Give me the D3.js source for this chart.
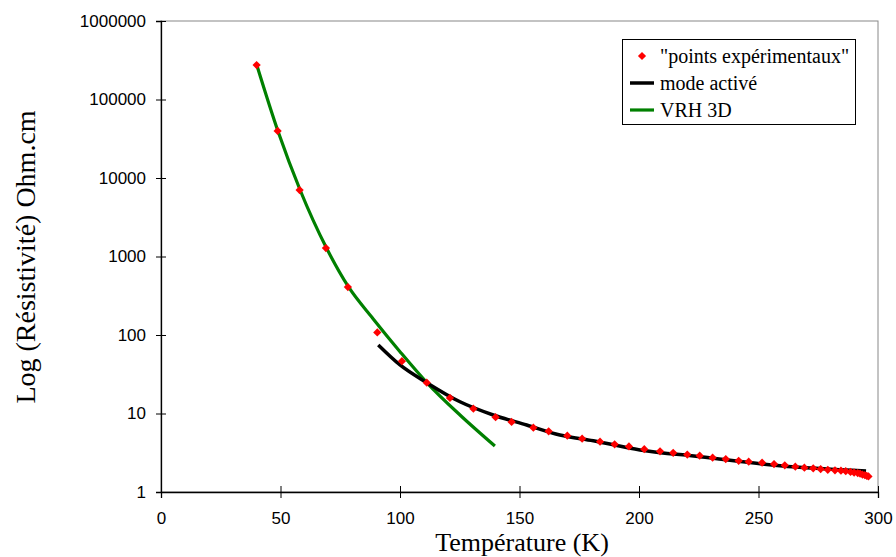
<!DOCTYPE html>
<html><head><meta charset="utf-8">
<script src="https://cdn.jsdelivr.net/npm/d3@7"></script>
<style>body{margin:0;background:#fff}svg{display:block}</style>
</head><body>
<svg id="c" width="896" height="557"></svg>
<script>
// Experimental points: temperature (K) and resistivity (Ohm.cm)
const expT = [40, 48.8, 58, 69, 78.2, 90.5, 100.8, 111.2, 120.9, 130.7, 140, 146.7, 155.8, 162.2, 170, 176.2, 183.7, 189.8, 195.8, 202.2, 208.8, 214.3, 220.2, 225.4, 230.8, 236.3, 241.7, 245.9, 251.5, 256.5, 261, 265.4, 269.2, 272.9, 276, 279, 282, 284.5, 286.5, 288.5, 290, 291.5, 292.5, 293.5, 294.5, 295.3, 296];
const expR = [275000, 39700, 7030, 1283, 408, 108, 46.4, 24.7, 15.8, 11.5, 8.98, 7.8, 6.59, 5.94, 5.22, 4.78, 4.37, 4.05, 3.8, 3.51, 3.3, 3.16, 3.0, 2.9, 2.74, 2.63, 2.5, 2.43, 2.36, 2.27, 2.19, 2.1, 2.04, 2.0, 1.96, 1.92, 1.89, 1.87, 1.84, 1.8, 1.77, 1.74, 1.71, 1.67, 1.64, 1.61, 1.58];
// "mode activé" fit curve
const actT = [90.9, 100, 111.2, 125.1, 139, 153, 166.9, 180.9, 200.4, 225.5, 259, 295];
const actR = [74.6, 41.5, 24.7, 14.1, 9.57, 7.14, 5.32, 4.5, 3.43, 2.82, 2.16, 1.85];
// "VRH 3D" fit curve
const vrhT = [40, 49.1, 58.2, 69.3, 78.4, 88.8, 100, 111.2, 125.1, 139.7];
const vrhR = [280000, 38200, 7030, 1272, 412, 160, 61.3, 24.8, 9.57, 3.85];
// Axes
const xTicks = [0, 50, 100, 150, 200, 250, 300];
const yTicks = [1, 10, 100, 1000, 10000, 100000, 1000000];
const xTitle = "Température (K)";
const yTitle = "Log (Résistivité) Ohm.cm";
const legendLabels = ['"points expérimentaux"', 'mode activé', 'VRH 3D'];

const svg = d3.select("#c");
const L = 161, R = 878, T = 21, B = 492;
const x = d3.scaleLinear().domain([0, 300]).range([L, R]);
const y = d3.scaleLog().domain([1, 1000000]).range([B, T]);

// plot frame (top/right gray)
svg.append("rect").attr("x", L).attr("y", T).attr("width", R - L).attr("height", B - T)
  .attr("fill", "none").attr("stroke", "#888").attr("stroke-width", 1);

const sans = "'Liberation Sans', Arial, sans-serif";
const serif = "'Liberation Serif', 'Times New Roman', serif";

const xAxis = svg.append("g").attr("transform", `translate(0,${B})`)
  .call(d3.axisBottom(x).tickValues(xTicks).tickFormat(d3.format("d")).tickSize(6).tickPadding(14));
xAxis.selectAll(".tick line").attr("y1", -6).attr("y2", 6);
xAxis.selectAll("text").style("font-family", sans).style("font-size", "17px").attr("fill", "#000");
xAxis.select(".domain").attr("stroke", "#000").attr("stroke-width", 1.3);

const yAxis = svg.append("g").attr("transform", `translate(${L},0)`)
  .call(d3.axisLeft(y).tickValues(yTicks).tickFormat(d3.format("d")).tickSize(5).tickPadding(10));
yAxis.selectAll(".tick line").attr("x1", -5).attr("x2", 5);
yAxis.selectAll("text").style("font-family", sans).style("font-size", "17px").attr("fill", "#000");
yAxis.select(".domain").attr("stroke", "#000").attr("stroke-width", 1.3);

// lines
const line = d3.line().x(d => x(d[0])).y(d => y(d[1])).curve(d3.curveMonotoneX);
svg.append("path").datum(vrhT.map((t, i) => [t, vrhR[i]])).attr("d", line)
  .attr("fill", "none").attr("stroke", "#008000").attr("stroke-width", 3.2);
svg.append("path").datum(actT.map((t, i) => [t, actR[i]])).attr("d", line)
  .attr("fill", "none").attr("stroke", "#000").attr("stroke-width", 3.5);

// square diamonds (rotated squares)
const diamond = d3.symbol().type(d3.symbolSquare).size(34);
svg.append("g").selectAll("path").data(expT.map((t, i) => [t, expR[i]])).join("path")
  .attr("d", diamond).attr("transform", d => `translate(${x(d[0])},${y(d[1])}) rotate(45)`)
  .attr("fill", "#ff0000");

// titles
svg.append("text").attr("x", 522).attr("y", 551).attr("text-anchor", "middle")
  .style("font-family", serif).style("font-size", "26px").text(xTitle);
svg.append("text").attr("transform", "translate(35,257) rotate(-90)").attr("text-anchor", "middle")
  .style("font-family", serif).style("font-size", "28px").text(yTitle);

// legend
const lg = svg.append("g");
lg.append("rect").attr("x", 622.5).attr("y", 39.5).attr("width", 233).attr("height", 85)
  .attr("fill", "#fff").attr("stroke", "#000").attr("stroke-width", 1);
const ly = [56, 83, 110];
lg.append("path").attr("d", diamond).attr("transform", `translate(642,${ly[0]}) rotate(45)`).attr("fill", "#ff0000");
lg.append("line").attr("x1", 630).attr("x2", 654).attr("y1", ly[1]).attr("y2", ly[1]).attr("stroke", "#000").attr("stroke-width", 3.5);
lg.append("line").attr("x1", 630).attr("x2", 654).attr("y1", ly[2]).attr("y2", ly[2]).attr("stroke", "#008000").attr("stroke-width", 3.2);
legendLabels.forEach((t, i) => lg.append("text").attr("x", 660).attr("y", ly[i] + 7)
  .style("font-family", serif).style("font-size", "20px").text(t));
</script>
</body></html>
